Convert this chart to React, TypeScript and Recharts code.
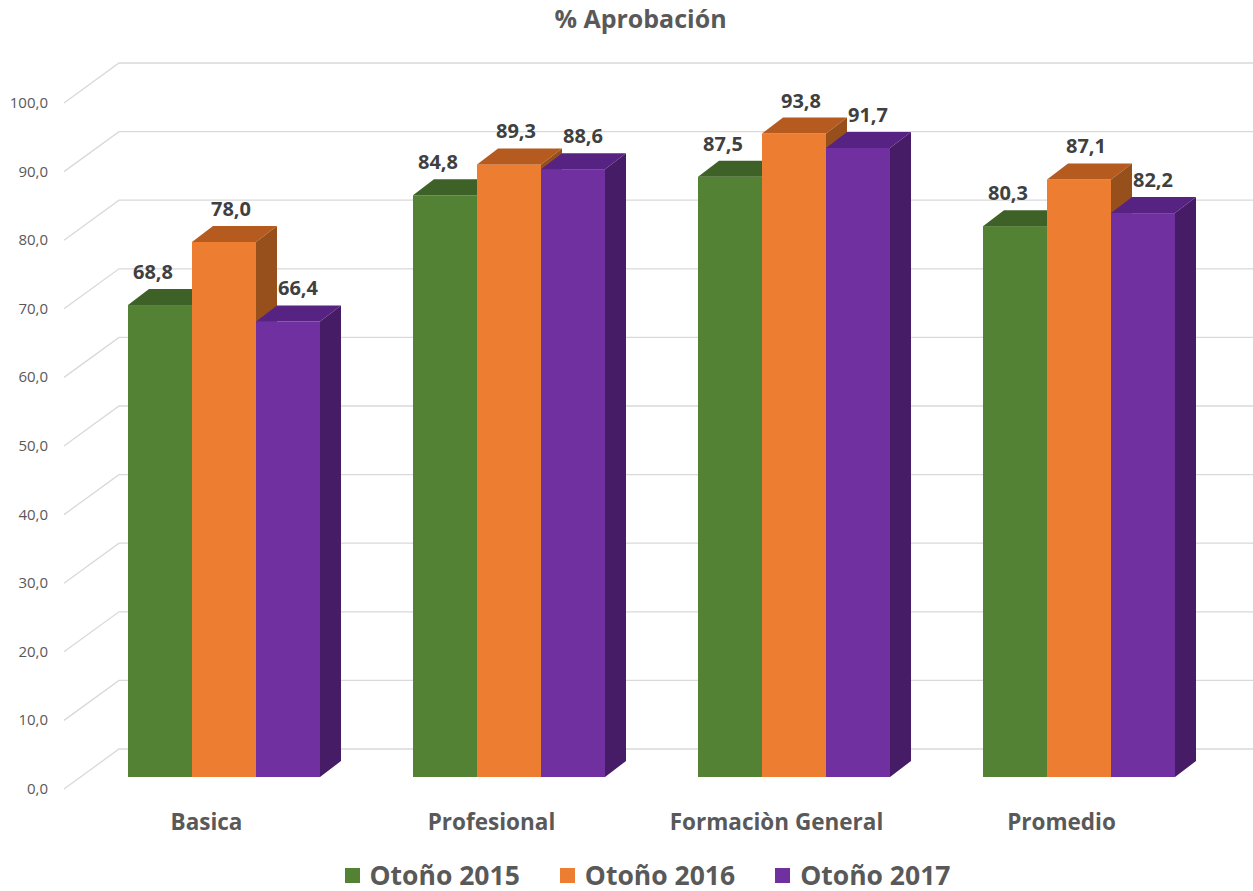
import React from 'react';
import { BarChart, Bar, XAxis, YAxis, CartesianGrid, LabelList } from 'recharts';

const categories = ['Basica', 'Profesional', 'Formaciòn General', 'Promedio'];
const otono2015 = [68.8, 84.8, 87.5, 80.3];
const otono2016 = [78.0, 89.3, 93.8, 87.1];
const otono2017 = [66.4, 88.6, 91.7, 82.2];
const yTicks = [0, 10, 20, 30, 40, 50, 60, 70, 80, 90, 100];

const series = [
  { key: 'o2015', name: 'Otoño 2015', front: '#548235', top: '#3e6128', side: '#36541f', labelDx: -7 },
  { key: 'o2016', name: 'Otoño 2016', front: '#ed7d31', top: '#b65b20', side: '#97501c', labelDx: 7 },
  { key: 'o2017', name: 'Otoño 2017', front: '#7030a0', top: '#572383', side: '#461c66', labelDx: 10 },
];

const data = categories.map((name, i) => ({
  name,
  o2015: otono2015[i],
  o2016: otono2016[i],
  o2017: otono2017[i],
}));

// fake 3d: wall depth for grid, bar offset inside the floor, bar depth
const WALL_DX = 55;
const WALL_DY = -40;
const BAR_OFF_X = 17;
const BAR_OFF_Y = -12;
const DEPTH_X = 21;
const DEPTH_Y = -16;
const FONT = '"Open Sans", Lato, sans-serif';
const fmt = (v: number) => v.toFixed(1).replace('.', ',');

const make3D = (s: typeof series[number]) => (props: any) => {
  const { x, y, width, height } = props;
  const x0 = x + BAR_OFF_X;
  const y0 = y + BAR_OFF_Y;
  const x1 = x0 + width;
  const y1 = y0 + height;
  return (
    <g>
      <rect x={x0} y={y0} width={width} height={height} fill={s.front} />
      <polygon
        points={`${x0},${y0} ${x1},${y0} ${x1 + DEPTH_X},${y0 + DEPTH_Y} ${x0 + DEPTH_X},${y0 + DEPTH_Y}`}
        fill={s.top}
      />
      <polygon
        points={`${x1},${y0} ${x1 + DEPTH_X},${y0 + DEPTH_Y} ${x1 + DEPTH_X},${y1 + DEPTH_Y} ${x1},${y1}`}
        fill={s.side}
      />
    </g>
  );
};

const makeLabel = (s: typeof series[number]) => (props: any) => {
  const { x, y, width, value } = props;
  return (
    <text
      x={x + BAR_OFF_X + width / 2 + s.labelDx}
      y={y + BAR_OFF_Y + DEPTH_Y - 10}
      textAnchor="middle"
      fontFamily={FONT}
      fontWeight={700}
      fontSize={20}
      fill="#404040"
    >
      {fmt(value)}
    </text>
  );
};

const gridLine = (p: any) => {
  const { x1, y1, index } = p;
  return (
    <polyline
      key={`g-${index}-${y1}`}
      points={`${x1},${y1} ${x1 + WALL_DX},${y1 + WALL_DY} 1253,${y1 + WALL_DY}`}
      fill="none"
      stroke="#d9d9d9"
      strokeWidth={1.3}
    />
  );
};

const YTick = (props: any) => {
  const { x, y, payload } = props;
  return (
    <text x={x - 8} y={y + 5} textAnchor="end" fontFamily={FONT} fontSize={15} fill="#595959">
      {fmt(payload.value)}
    </text>
  );
};

const XTick = (props: any) => {
  const { x, y, payload } = props;
  return (
    <text x={x} y={y + 33} textAnchor="middle" fontFamily={FONT} fontWeight={700} fontSize={22.5} fill="#595959">
      {payload.value}
    </text>
  );
};

export default function App() {
  return (
    <div style={{ position: 'absolute', left: 0, top: 0, width: 1253, height: 891, background: '#fff' }}>
      <div
        style={{
          position: 'absolute',
          top: 1,
          left: 0,
          width: 1253,
          textAlign: 'center',
          fontFamily: FONT,
          fontWeight: 700,
          fontSize: 25,
          color: '#595959',
          paddingLeft: 28,
          boxSizing: 'border-box',
        }}
      >
        % Aprobación
      </div>
      <BarChart
        width={1253}
        height={891}
        data={data}
        margin={{ top: 103, right: 49, bottom: 62, left: 0 }}
        barCategoryGap={47}
        barGap={0}
      >
        <CartesianGrid vertical={false} horizontal={gridLine} />
        <XAxis dataKey="name" height={40} axisLine={false} tickLine={false} tick={<XTick />} interval={0} />
        <YAxis
          width={64}
          domain={[0, 100]}
          ticks={yTicks}
          axisLine={false}
          tickLine={false}
          tick={<YTick />}
          interval={0}
        />
        {series.map((s) => (
          <Bar key={s.key} dataKey={s.key} name={s.name} fill={s.front} shape={make3D(s)} isAnimationActive={false}>
            <LabelList dataKey={s.key} content={makeLabel(s)} />
          </Bar>
        ))}
      </BarChart>
      <div
        style={{
          position: 'absolute',
          top: 857,
          left: 0,
          width: 1253,
          display: 'flex',
          justifyContent: 'center',
          gap: 40,
          paddingLeft: 42,
          boxSizing: 'border-box',
          fontFamily: FONT,
          fontWeight: 700,
          fontSize: 26.5,
          color: '#595959',
        }}
      >
        {series.map((s) => (
          <div key={s.key} style={{ display: 'flex', alignItems: 'center', gap: 10 }}>
            <span style={{ display: 'inline-block', width: 15, height: 15, background: s.front }} />
            <span>{s.name}</span>
          </div>
        ))}
      </div>
    </div>
  );
}
